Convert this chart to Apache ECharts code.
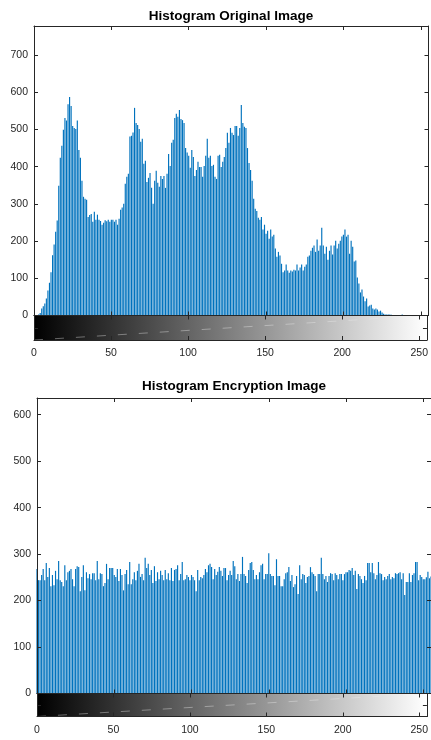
<!DOCTYPE html>
<html><head><meta charset="utf-8">
<script src="https://cdn.jsdelivr.net/npm/echarts@6/dist/echarts.min.js"></script>
<style>html,body{margin:0;padding:0;background:#fff}#c{width:431px;height:740px}</style>
</head><body><div id="c"></div>
<script>
// ---------------- data ----------------
const titles = ['Histogram Original Image', 'Histogram Encryption Image'];
const grayLevels = Array.from({length: 256}, (_, i) => i);   // intensity bins 0..255
const xTicks = [0, 50, 100, 150, 200, 250];
const colorbarRange = [0, 255];

const originalCounts = [
  0,0,1,3,7,19,25,32,46,67,88,116,162,191,225,255,349,424,456,499,
  531,524,568,587,563,509,504,501,524,445,424,362,319,314,311,265,270,273,252,279,
  257,271,257,254,244,249,256,253,257,252,257,257,252,257,244,260,284,290,300,354,
  373,381,481,483,492,558,517,512,501,467,475,408,416,359,370,383,343,300,362,389,
  357,346,375,367,375,343,381,434,402,464,472,531,542,534,552,528,525,517,450,438,
  429,397,445,426,375,391,413,399,
  399,373,402,429,475,424,429,402,405,373,367,429,432,399,413,426,450,491,464,504,
  491,485,509,509,483,504,566,517,507,504,450,410,391,362,314,287,281,263,257,265,
  231,244,220,228,206,231,212,217,180,158,171,161,139,116,121,137,121,115,121,118,
  123,121,137,121,129,137,121,131,137,158,161,174,182,188,171,204,174,188,236,188,
  166,185,150,174,188,164,188,201,180,193,201,212,217,231,212,217,166,201,185,145,
  148,102,86,62,70,51,38,46,24,27,29,19,16,19,16,11,13,8,5,3,
  3,3,3,2,0,0,0,0,0,0,3,0,0,0,0,0,0,0,0,0,
  0,0,0,0,0,0,0,0
];

const encryptedCounts = [
  268,244,244,255,268,244,281,251,270,231,
  255,233,264,246,285,244,240,231,276,244,
  261,264,268,246,231,268,274,272,220,251,
  276,222,261,248,257,246,259,259,244,285,
  246,259,257,231,238,279,246,270,270,270,
  255,251,268,242,268,255,222,257,266,235,
  283,235,246,261,244,264,279,251,257,244,
  292,270,279,255,266,238,274,242,261,246,
  264,255,244,266,246,259,244,270,242,266,
  268,276,244,257,283,244,246,255,251,244,
  255,251,244,220,266,244,251,248,255,268,
  261,276,279,272,246,268,255,262,
  272,264,253,270,270,244,255,264,255,285,
  274,246,257,242,257,294,257,253,238,266,
  281,283,266,246,255,246,261,276,279,246,
  257,257,302,257,253,253,233,289,253,253,
  231,231,246,259,261,272,242,255,229,235,
  253,214,276,246,257,255,238,251,253,272,
  261,257,253,220,257,257,292,257,246,253,
  240,253,259,257,244,259,255,246,257,257,
  244,257,261,261,266,264,270,255,264,225,
  257,253,246,238,253,244,281,281,261,281,
  259,246,255,283,259,257,244,251,246,253,
  257,246,251,248,259,257,259,261,246,259,
  212,240,240,259,240,255,259,283,283,244,
  255,251,246,246,250,262,248,252
];

// ---------------- style / layout ----------------
const FONT = 'Liberation Sans, Arial, Helvetica, sans-serif';
const INK = '#262626';
const BLUE = '#0072BD';
const panels = [
  {hist: {left: 34, top: 26, width: 394.5, height: 289.5},
   bar:  {left: 34, top: 315.5, width: 394.5, height: 24.5},
   yMax: 778, titleX: 231, titleY: 16, counts: originalCounts, title: titles[0]},
  {hist: {left: 37, top: 398, width: 398, height: 295.5},
   bar:  {left: 37, top: 693.5, width: 398, height: 23},
   yMax: 636, titleX: 234, titleY: 386.5, counts: encryptedCounts, title: titles[1]}
];

function xAx(g, pos, labels) {
  return {type: 'value', gridIndex: g, position: pos, min: colorbarRange[0], max: colorbarRange[1], interval: 50, z: 10,
    axisLine: {show: true, onZero: false, lineStyle: {color: INK, width: 1}},
    axisTick: {show: true, inside: true, length: 4, lineStyle: {color: INK, width: 1}},
    axisLabel: {show: labels, color: INK, fontFamily: FONT, fontSize: 10.5, margin: 8,
      formatter: v => xTicks.includes(v) ? String(v) : ''},
    splitLine: {show: false}};
}
function yAx(g, pos, max, interval, labels) {
  return {type: 'value', gridIndex: g, position: pos, min: 0, max: max, interval: interval, z: 10,
    axisLine: {show: true, onZero: false, lineStyle: {color: INK, width: 1}},
    axisTick: {show: true, inside: true, length: 4, lineStyle: {color: INK, width: 1}},
    axisLabel: {show: labels, color: INK, fontFamily: FONT, fontSize: 10.5, margin: 6,
      formatter: v => (v % 100 === 0 ? String(v) : '')},
    splitLine: {show: false}};
}

const grid = [], xAxis = [], yAxis = [], series = [], graphic = [];
panels.forEach((p, k) => {
  const gh = 2 * k, gb = 2 * k + 1;
  grid.push(Object.assign({containLabel: false}, p.hist));
  grid.push(Object.assign({containLabel: false}, p.bar));
  xAxis.push(xAx(gh, 'bottom', false), xAx(gh, 'top', false));
  yAxis.push(yAx(gh, 'left', p.yMax, 100, true), yAx(gh, 'right', p.yMax, 100, false));
  xAxis.push(xAx(gb, 'bottom', true), xAx(gb, 'top', false));
  yAxis.push(yAx(gb, 'left', 1, 0.5, false), yAx(gb, 'right', 1, 0.5, false));
  const xi = 4 * k, yi = 4 * k;
  series.push({
    type: 'bar', xAxisIndex: xi, yAxisIndex: yi, barWidth: 1.15, barGap: '0%',
    itemStyle: {color: BLUE}, emphasis: {disabled: true},
    data: p.counts.map((v, i) => [grayLevels[i], v])
  });
  series.push({
    type: 'custom', xAxisIndex: xi + 2, yAxisIndex: yi + 2, silent: true,
    data: [[colorbarRange[0], colorbarRange[1]]],
    renderItem: (params, api) => {
      const a = api.coord([api.value(0), 1]);
      const b = api.coord([api.value(1), 0]);
      return {type: 'rect', shape: {x: a[0], y: a[1], width: b[0] - a[0], height: b[1] - a[1]},
        style: {fill: new echarts.graphic.LinearGradient(0, 0, 1, 0,
          [{offset: 0, color: '#000'}, {offset: 1, color: '#fff'}])}};
    }
  });
  series.push({
    type: 'line', xAxisIndex: xi + 2, yAxisIndex: yi + 2, silent: true, symbol: 'none', z: 5,
    lineStyle: {color: 'rgba(235,235,235,0.4)', width: 1, type: [9, 12]},
    data: [[colorbarRange[0], 0], [colorbarRange[1], 1]]
  });
  graphic.push({type: 'text', x: p.titleX, y: p.titleY,
    style: {text: p.title, font: 'bold 13.5px ' + FONT, fill: '#000', textAlign: 'center', textVerticalAlign: 'middle'}});
});

const chart = echarts.init(document.getElementById('c'), null, {renderer: 'canvas'});
chart.setOption({animation: false, backgroundColor: '#fff', grid, xAxis, yAxis, series, graphic});
</script>
</body></html>
